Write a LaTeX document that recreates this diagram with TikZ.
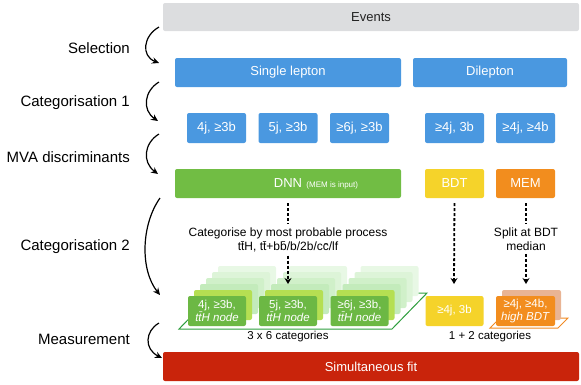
\documentclass[tikz,border=0pt]{standalone}
\usepackage{fontspec}
\setmainfont{Liberation Sans}
\usetikzlibrary{arrows.meta}
\definecolor{evgray}{HTML}{DCDDDF}
\definecolor{evtext}{HTML}{222222}
\definecolor{lblue}{HTML}{4A98E0}
\definecolor{dgreen}{HTML}{71BD44}
\definecolor{cgreen}{HTML}{6CB844}
\definecolor{ygreen}{HTML}{B5DF52}
\definecolor{pale2}{HTML}{C3EBBB}
\definecolor{pale3}{HTML}{D0F0C9}
\definecolor{pale4}{HTML}{DDF4D8}
\definecolor{pale5}{HTML}{E8F8E5}
\definecolor{byellow}{HTML}{F5D32A}
\definecolor{morange}{HTML}{F28D1E}
\definecolor{salmon}{HTML}{E9B494}
\definecolor{fitred}{HTML}{C9240B}
\definecolor{planegreen}{HTML}{2E9E3E}
\definecolor{planeorange}{HTML}{F08A24}
\begin{document}
\begin{tikzpicture}[x=1pt,y=-1pt,
  box/.style={rounded corners=2pt, inner sep=0pt, minimum height=29pt, text=white, font=\fontsize{13}{15}\selectfont},
  catbox/.style={rounded corners=2pt, inner sep=0pt, minimum width=58pt, minimum height=30pt, text=white, align=center, font=\fontsize{11.5}{12.5}\selectfont},
  lbl/.style={anchor=east, inner sep=0pt, font=\fontsize{15}{18}\selectfont},
  note/.style={inner sep=2pt, align=center, font=\fontsize{12}{14.5}\selectfont},
  flow/.style={-{Stealth[length=7pt,width=6.5pt]}, line width=1.2pt},
  dots/.style={dash pattern=on 3pt off 2pt, line width=1.8pt, -{Stealth[length=6pt,width=7pt]}},
  dotsplain/.style={dash pattern=on 3pt off 2pt, line width=1.8pt}
]
\useasboundingbox (0,0) rectangle (581,384);

% top rows
\node[box, fill=evgray, text=evtext, minimum width=416pt, minimum height=28pt] (events) at (371,17) {Events};
\node[box, fill=lblue, minimum width=226pt] (single) at (288,72.5) {Single lepton};
\node[box, fill=lblue, minimum width=154pt] (dilep) at (490,72.5) {Dilepton};

\node[box, fill=lblue, minimum width=59pt, minimum height=30pt] (b4j) at (216.5,128) {4j, ≥3b};
\node[box, fill=lblue, minimum width=59pt, minimum height=30pt] (b5j) at (288,128) {5j, ≥3b};
\node[box, fill=lblue, minimum width=59pt, minimum height=30pt] (b6j) at (359.5,128) {≥6j, ≥3b};
\node[box, fill=lblue, minimum width=59pt, minimum height=30pt] (d3b) at (454.5,128) {≥4j, 3b};
\node[box, fill=lblue, minimum width=59pt, minimum height=30pt] (d4b) at (525.5,128) {≥4j, ≥4b};

\node[box, fill=dgreen, minimum width=226pt] (dnn) at (288,183.5) {};
\node[inner sep=0pt, text=white, font=\fontsize{13}{15}\selectfont] (dnnlbl) at (dnn.center) {DNN};
\node[inner sep=0pt, text=white, anchor=base west, font=\fontsize{8}{9}\selectfont] (dnnsub) at ([xshift=4pt]dnnlbl.base east) {(MEM is input)};
\node[box, fill=byellow, minimum width=59pt] (bdt) at (454.5,183.5) {BDT};
\node[box, fill=morange, minimum width=59pt] (mem) at (525.5,183.5) {MEM};

% planes
\draw[planegreen, line width=1pt] (179,329) -- (392,329) -- (427,293) -- (214,293) -- cycle;
\draw[planeorange, line width=1pt] (490,328) -- (558,328) -- (568,318) -- (500,318) -- cycle;

% stacks behind the single-lepton categories
\foreach \cx in {217,288,359.5}{
  \foreach \k/\c in {5/pale5,4/pale4,3/pale3,2/pale2,1/ygreen}{
    \fill[\c, rounded corners=2pt] (\cx-29+6*\k, 296-6*\k) rectangle ++(58,30);
  }
}
\fill[salmon, rounded corners=2pt] (502,290) rectangle ++(59,30);

\node[catbox, fill=cgreen] (c4j) at (217,311) {4j, ≥3b,\\\textit{t\=tH node}};
\node[catbox, fill=cgreen] (c5j) at (288,311) {5j, ≥3b,\\\textit{t\=tH node}};
\node[catbox, fill=cgreen] (c6j) at (359.5,311) {≥6j, ≥3b,\\\textit{t\=tH node}};
\node[catbox, fill=byellow] (cbdt) at (454.5,311) {≥4j, 3b};
\node[catbox, fill=morange, minimum width=59pt] (cmem) at (525.5,311) {≥4j, ≥4b,\\\textit{high BDT}};

\node[note, font=\fontsize{11.5}{13}\selectfont] (n36) at (288,337) {3 x 6 categories};
\node[note, font=\fontsize{11.5}{13}\selectfont] (n12) at (490,337) {1 + 2 categories};

\node[box, fill=fitred, minimum width=416pt] (fit) at (371,366.5) {Simultaneous fit};

% notes and dotted arrows
\node[note] (cattxt) at (288,240) {Categorise by most probable process\\t\=tH, t\=t+b\=b/b/2b/c\=c/lf};
\node[note] (splittxt) at (526,239) {Split at BDT\\median};
\coordinate (tipdnn) at (288,284);
\coordinate (tipbdt) at (454,284);
\coordinate (tipmem) at (526,284);
\draw[dotsplain, shorten <=5pt, shorten >=1pt] (dnn.south) -- (cattxt.north);
\draw[dots, shorten <=1pt] (cattxt.south) -- (tipdnn);
\draw[dots, shorten <=5pt] (bdt.south) -- (tipbdt);
\draw[dotsplain, shorten <=5pt, shorten >=1pt] (mem.south -| tipmem) -- (splittxt.north);
\draw[dots, shorten <=1pt] (splittxt.south) -- (tipmem);

% left labels
\node[lbl] (lsel) at (130,48) {Selection};
\node[lbl] (lcat1) at (130,103) {Categorisation 1};
\node[lbl] (lmva) at (130,157) {MVA discriminants};
\node[lbl] (lcat2) at (130,247) {Categorisation 2};
\node[lbl] (lmeas) at (130,339) {Measurement};

\coordinate (s1) at (159,27);   \coordinate (e1) at (159,63);
\coordinate (s2) at (159,82);   \coordinate (e2) at (158,121);
\coordinate (s3) at (159,134);  \coordinate (e3) at (158,174);
\coordinate (s4) at (160,198);  \coordinate (e4) at (160,295);
\coordinate (s5) at (159,323);  \coordinate (e5) at (162,358);
\draw[flow] (s1) .. controls (143,36) and (141,56) .. (e1);
\draw[flow] (s2) .. controls (144,91) and (142,110) .. (e2);
\draw[flow] (s3) .. controls (144,143) and (142,162) .. (e3);
\draw[flow] (s4) .. controls (141,225) and (140,270) .. (e4);
\draw[flow] (s5) .. controls (145,331) and (144,349) .. (e5);
\end{tikzpicture}
\end{document}
